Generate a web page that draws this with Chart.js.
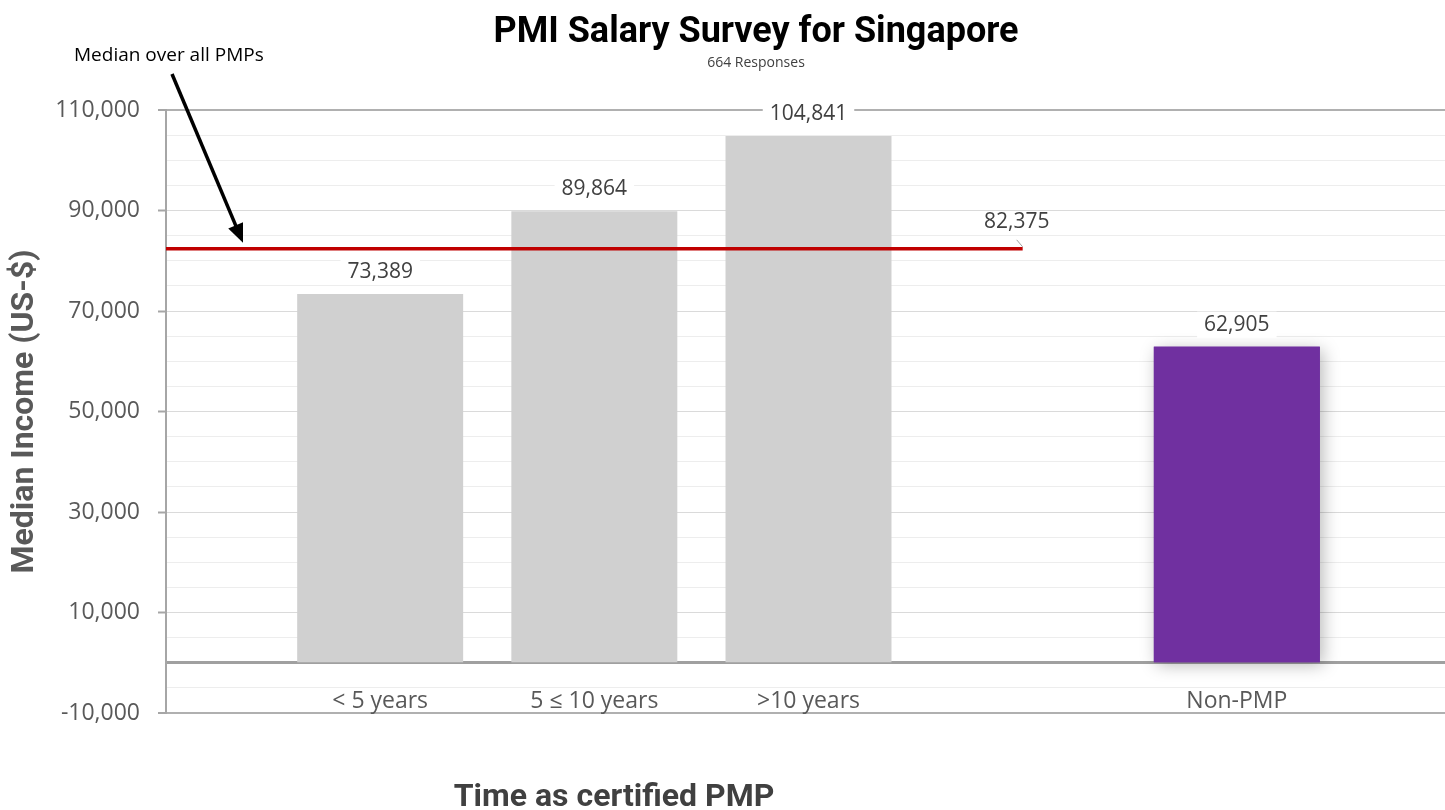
<!DOCTYPE html>
<html>
<head>
<meta charset="utf-8">
<script src="https://cdn.jsdelivr.net/npm/chart.js@4"></script>
<style>
  html, body { margin: 0; padding: 0; background: #fff; overflow: hidden; }
  #wrap { width: 1451px; height: 810px; }
</style>
</head>
<body>
<div id="wrap"><canvas id="chart"></canvas></div>
<script>
// data
const categories = ["", "< 5 years", "5 \u2264 10 years", ">10 years", "", "Non-PMP", ""];
const medianIncome = [null, 73389, 89864, 104841, null, 62905, null];
const overallMedian = [82375, 82375, 82375, 82375, 82375, null, null];
const yMin = -10000, yMax = 110000, yStep = 5000, yLabelStep = 20000;

const fmt = v => v.toLocaleString("en-US");
const TICK_FONT = "Open Sans";
const BOLD_FONT = "Roboto";
const isPurple = i => categories[i] === "Non-PMP";

const overlay = {
  id: "overlay",
  beforeDatasetsDraw(chart) {
    // soft shadow under the Non-PMP bar
    const ctx = chart.ctx;
    chart.getDatasetMeta(0).data.forEach((bar, i) => {
      if (!isPurple(i) || medianIncome[i] == null) return;
      ctx.save();
      ctx.shadowColor = "rgba(0,0,0,0.28)";
      ctx.shadowBlur = 16;
      ctx.shadowOffsetX = 3;
      ctx.shadowOffsetY = 3;
      ctx.fillStyle = "#7030a0";
      ctx.fillRect(bar.x - bar.width / 2, bar.y, bar.width, bar.base - bar.y);
      ctx.restore();
    });
  },
  afterDatasetsDraw(chart) {
    const ctx = chart.ctx;
    ctx.save();
    ctx.font = "21px '" + TICK_FONT + "'";
    ctx.textAlign = "center";
    ctx.textBaseline = "middle";

    // bar values with a white box behind them
    chart.getDatasetMeta(0).data.forEach((bar, i) => {
      const v = medianIncome[i];
      if (v == null) return;
      const txt = fmt(v);
      const w = ctx.measureText(txt).width + 14;
      const ty = bar.y - 22;
      ctx.fillStyle = "#fff";
      ctx.fillRect(bar.x - w / 2, ty - 13, w, 26);
      ctx.fillStyle = "#404040";
      ctx.fillText(txt, bar.x, ty);
    });

    // label at the end of the median line
    const pts = chart.getDatasetMeta(1).data;
    let last = null;
    overallMedian.forEach((v, i) => { if (v != null) last = i; });
    const p = pts[last];
    ctx.strokeStyle = "#a0a0a0";
    ctx.lineWidth = 1;
    ctx.beginPath();
    ctx.moveTo(p.x - 6, p.y - 9);
    ctx.lineTo(p.x, p.y - 2);
    ctx.stroke();
    ctx.fillStyle = "#404040";
    ctx.fillText(fmt(overallMedian[last]), p.x - 6, p.y - 27);
    ctx.restore();
  },
  afterDraw(chart) {
    const ctx = chart.ctx;
    ctx.save();
    ctx.textAlign = "center";
    ctx.textBaseline = "alphabetic";

    ctx.fillStyle = "#000";
    ctx.font = "bold 36px " + BOLD_FONT;
    ctx.fillText("PMI Salary Survey for Singapore", 756, 42);
    ctx.fillStyle = "#404040";
    ctx.font = "14px '" + TICK_FONT + "'";
    ctx.fillText("664 Responses", 756, 67);

    ctx.fillStyle = "#404040";
    ctx.font = "bold 32px " + BOLD_FONT;
    ctx.fillText("Time as certified PMP", 614, 806);

    // annotation and arrow pointing at the median line
    ctx.fillStyle = "#000";
    ctx.textAlign = "left";
    ctx.font = "19px '" + TICK_FONT + "'";
    ctx.fillText("Median over all PMPs", 74, 61);

    const yLine = chart.scales.y.getPixelForValue(overallMedian[0]);
    const x0 = 172, y0 = 74, x1 = 243, y1 = yLine - 6;
    const ang = Math.atan2(y1 - y0, x1 - x0);
    const c = Math.cos(ang), s = Math.sin(ang);
    ctx.strokeStyle = "#000";
    ctx.lineWidth = 3.5;
    ctx.beginPath();
    ctx.moveTo(x0, y0);
    ctx.lineTo(x1 - 14 * c, y1 - 14 * s);
    ctx.stroke();
    ctx.beginPath();
    ctx.moveTo(x1, y1);
    ctx.lineTo(x1 - 19 * c + 8 * s, y1 - 19 * s - 8 * c);
    ctx.lineTo(x1 - 19 * c - 8 * s, y1 - 19 * s + 8 * c);
    ctx.closePath();
    ctx.fillStyle = "#000";
    ctx.fill();
    ctx.restore();
  }
};

const isLabelled = v => (v - yMin) % yLabelStep === 0;

new Chart(document.getElementById("chart"), {
  type: "bar",
  data: {
    labels: categories,
    datasets: [{
      type: "bar",
      data: medianIncome,
      backgroundColor: c => isPurple(c.dataIndex) ? "#7030a0" : "#d0d0d0",
      barPercentage: 0.775,
      categoryPercentage: 1,
      order: 1
    }, {
      type: "line",
      data: overallMedian,
      borderColor: "#c00000",
      borderWidth: 3.5,
      pointRadius: 0,
      order: 0
    }]
  },
  options: {
    responsive: true,
    maintainAspectRatio: false,
    animation: false,
    layout: { padding: { top: 110, bottom: 97, left: 0, right: 0 } },
    plugins: { legend: { display: false }, tooltip: { enabled: false } },
    scales: {
      x: {
        position: { y: 0 },
        offset: false,
        afterFit: s => { s.paddingLeft = 0; s.paddingRight = 0; },
        grid: { display: false },
        border: { color: "#a0a0a0", width: 3 },
        ticks: {
          padding: 17,
          color: "#595959",
          font: { family: TICK_FONT, size: 23 },
          autoSkip: false,
          maxRotation: 0
        }
      },
      y: {
        min: yMin,
        max: yMax,
        afterFit: s => { s.width = 166; },
        border: { color: "#a6a6a6", width: 2 },
        grid: {
          color: c => {
            const v = c.tick.value;
            if (v === yMax || v === yMin) return "#b0b0b0";
            if (isLabelled(v)) return "#dadada";
            return "#ededed";
          },
          lineWidth: c => (c.tick.value === yMax || c.tick.value === yMin) ? 2 : 1,
          tickLength: 8,
          tickColor: c => isLabelled(c.tick.value) ? "#a6a6a6" : "rgba(0,0,0,0)",
          tickWidth: 2
        },
        ticks: {
          stepSize: yStep,
          autoSkip: false,
          padding: 18,
          color: "#595959",
          font: { family: TICK_FONT, size: 23 },
          callback: v => isLabelled(v) ? fmt(v) : ""
        },
        title: {
          display: true,
          text: "Median Income (US-$)",
          color: "#595959",
          font: { family: BOLD_FONT, size: 32, weight: "bold" },
          padding: { top: 6, bottom: 0 }
        }
      }
    }
  },
  plugins: [overlay]
});
</script>
</body>
</html>
